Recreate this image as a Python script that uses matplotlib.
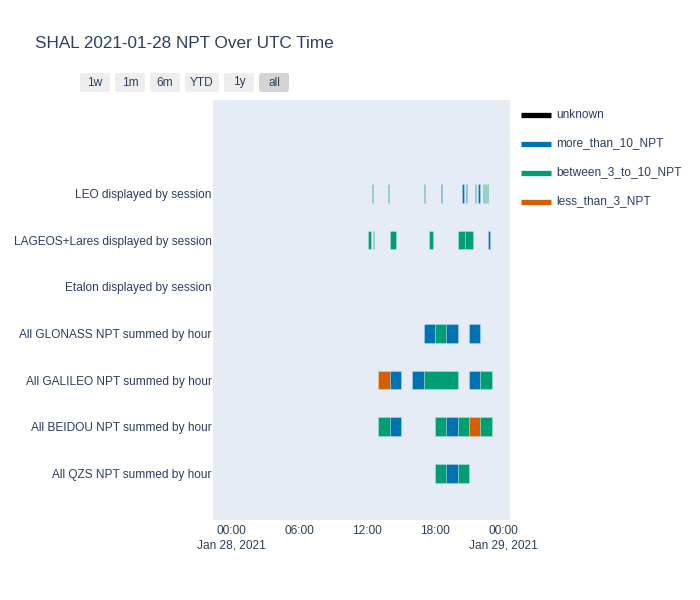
import matplotlib
matplotlib.use("Agg")
import matplotlib.pyplot as plt
import matplotlib.dates as mdates
from matplotlib.patches import FancyBboxPatch
from matplotlib.lines import Line2D
from datetime import datetime

plt.rcParams['font.family'] = ['Liberation Sans', 'DejaVu Sans']

TITLE = "SHAL 2021-01-28 NPT Over UTC Time"
categories = ["LEO displayed by session", "LAGEOS+Lares displayed by session",
              "Etalon displayed by session", "All GLONASS NPT summed by hour",
              "All GALILEO NPT summed by hour", "All BEIDOU NPT summed by hour",
              "All QZS NPT summed by hour"]
statuses = ["unknown", "more_than_10_NPT", "between_3_to_10_NPT", "less_than_3_NPT"]
status_colors = {"unknown": "#000000", "more_than_10_NPT": "#0072B2",
                 "between_3_to_10_NPT": "#009E73", "less_than_3_NPT": "#D55E00"}

DAY = "2021-01-28 "
# (start, end, status)
leo = [("12:24", "12:30", "between_3_to_10_NPT"), ("13:52", "13:57", "between_3_to_10_NPT"),
       ("17:02", "17:07", "between_3_to_10_NPT"), ("18:30", "18:36", "more_than_10_NPT"),
       ("20:22", "20:31", "more_than_10_NPT"), ("20:46", "20:51", "more_than_10_NPT"),
       ("21:32", "21:38", "between_3_to_10_NPT"), ("21:49", "22:00", "more_than_10_NPT"),
       ("22:14", "22:18", "between_3_to_10_NPT"), ("22:27", "22:31", "between_3_to_10_NPT"),
       ("22:34", "22:38", "between_3_to_10_NPT")]
lageos = [("12:07", "12:23", "between_3_to_10_NPT"), ("12:32", "12:39", "between_3_to_10_NPT"),
          ("14:02", "14:35", "between_3_to_10_NPT"), ("17:27", "17:51", "between_3_to_10_NPT"),
          ("20:02", "20:41", "between_3_to_10_NPT"), ("20:41", "21:20", "between_3_to_10_NPT"),
          ("22:41", "22:51", "more_than_10_NPT")]
etalon = []
glonass = [("17:00", "18:00", "more_than_10_NPT"), ("18:00", "19:00", "between_3_to_10_NPT"),
           ("19:00", "20:00", "more_than_10_NPT"), ("21:00", "22:00", "more_than_10_NPT")]
galileo = [("13:00", "14:00", "less_than_3_NPT"), ("14:00", "15:00", "more_than_10_NPT"),
           ("16:00", "17:00", "more_than_10_NPT"), ("17:00", "20:00", "between_3_to_10_NPT"),
           ("21:00", "22:00", "more_than_10_NPT"), ("22:00", "23:00", "between_3_to_10_NPT")]
beidou = [("13:00", "14:00", "between_3_to_10_NPT"), ("14:00", "15:00", "more_than_10_NPT"),
          ("18:00", "19:00", "between_3_to_10_NPT"), ("19:00", "20:00", "more_than_10_NPT"),
          ("20:00", "21:00", "between_3_to_10_NPT"), ("21:00", "22:00", "less_than_3_NPT"),
          ("22:00", "23:00", "between_3_to_10_NPT")]
qzs = [("18:00", "19:00", "between_3_to_10_NPT"), ("19:00", "20:00", "more_than_10_NPT"),
       ("20:00", "21:00", "between_3_to_10_NPT")]
series = [leo, lageos, etalon, glonass, galileo, beidou, qzs]

x_ticks = ["2021-01-28 00:00", "2021-01-28 06:00", "2021-01-28 12:00",
           "2021-01-28 18:00", "2021-01-29 00:00"]
x_tick_labels = ["00:00\nJan 28, 2021", "06:00", "12:00", "18:00", "00:00\nJan 29, 2021"]
x_range = ("2021-01-27 22:25", "2021-01-29 00:37")
buttons = ["1w", "1m", "6m", "YTD", "1y", "all"]

def t(s):
    return datetime.strptime(s, "%Y-%m-%d %H:%M")

FS = 8.6
W, H = 700, 600
fig = plt.figure(figsize=(7, 6), dpi=100)
ax = fig.add_axes([213 / W, 1 - 520 / H, 297 / W, 420 / H])
ax.set_facecolor("#E5ECF6")
for sp in ax.spines.values():
    sp.set_visible(False)

n = len(categories)
for i, (cat, segs) in enumerate(zip(categories, series)):
    y = n - 1 - i
    for s, e, st in segs:
        x0 = mdates.date2num(t(DAY + s))
        x1 = mdates.date2num(t(DAY + e))
        ax.barh(y, x1 - x0, left=x0, height=0.4, color=status_colors[st],
                edgecolor=(1, 1, 1, 0.35), linewidth=0.5)

ax.set_ylim(-1, 8)
ax.set_yticks(range(n))
ax.set_yticklabels(categories[::-1])
ax.set_xlim(mdates.date2num(t(x_range[0])), mdates.date2num(t(x_range[1])))
ax.set_xticks([mdates.date2num(t(v)) for v in x_ticks])
ax.set_xticklabels(x_tick_labels, linespacing=1.3)
ax.tick_params(axis='both', length=0, labelsize=FS, colors="#2a3f5f")
ax.tick_params(axis='y', pad=1)
ax.tick_params(axis='x', pad=3.5)

fig.text(35 / W, 1 - 44 / H, TITLE, fontsize=12.3, color="#2a3f5f", va='center', ha='left')

# range selector buttons
bx = [80, 115, 150, 185, 224, 259]
bw = [30, 30, 30, 34, 30, 30]
for lab, x0, w in zip(buttons, bx, bw):
    fc = "#d4d4d4" if lab == "all" else "#eeeeee"
    p = FancyBboxPatch((x0 / W, 1 - 92 / H), w / W, 19 / H,
                       boxstyle="round,pad=0,rounding_size=0.004",
                       transform=fig.transFigure, fc=fc, ec="none")
    fig.patches.append(p)
    fig.text((x0 + w / 2) / W, 1 - 82.5 / H, lab, fontsize=FS, color="#2a3f5f",
             ha='center', va='center')

# legend
for k, st in enumerate(statuses):
    yy = 1 - (114.5 + 29 * k) / H
    fig.add_artist(Line2D([521 / W, 551 / W], [yy, yy], transform=fig.transFigure,
                          color=status_colors[st], linewidth=3.8, solid_capstyle='butt'))
    fig.text(556 / W, yy, st, fontsize=FS, color="#2a3f5f", va='center', ha='left')

fig.savefig("out.png", dpi=100, facecolor="white")
